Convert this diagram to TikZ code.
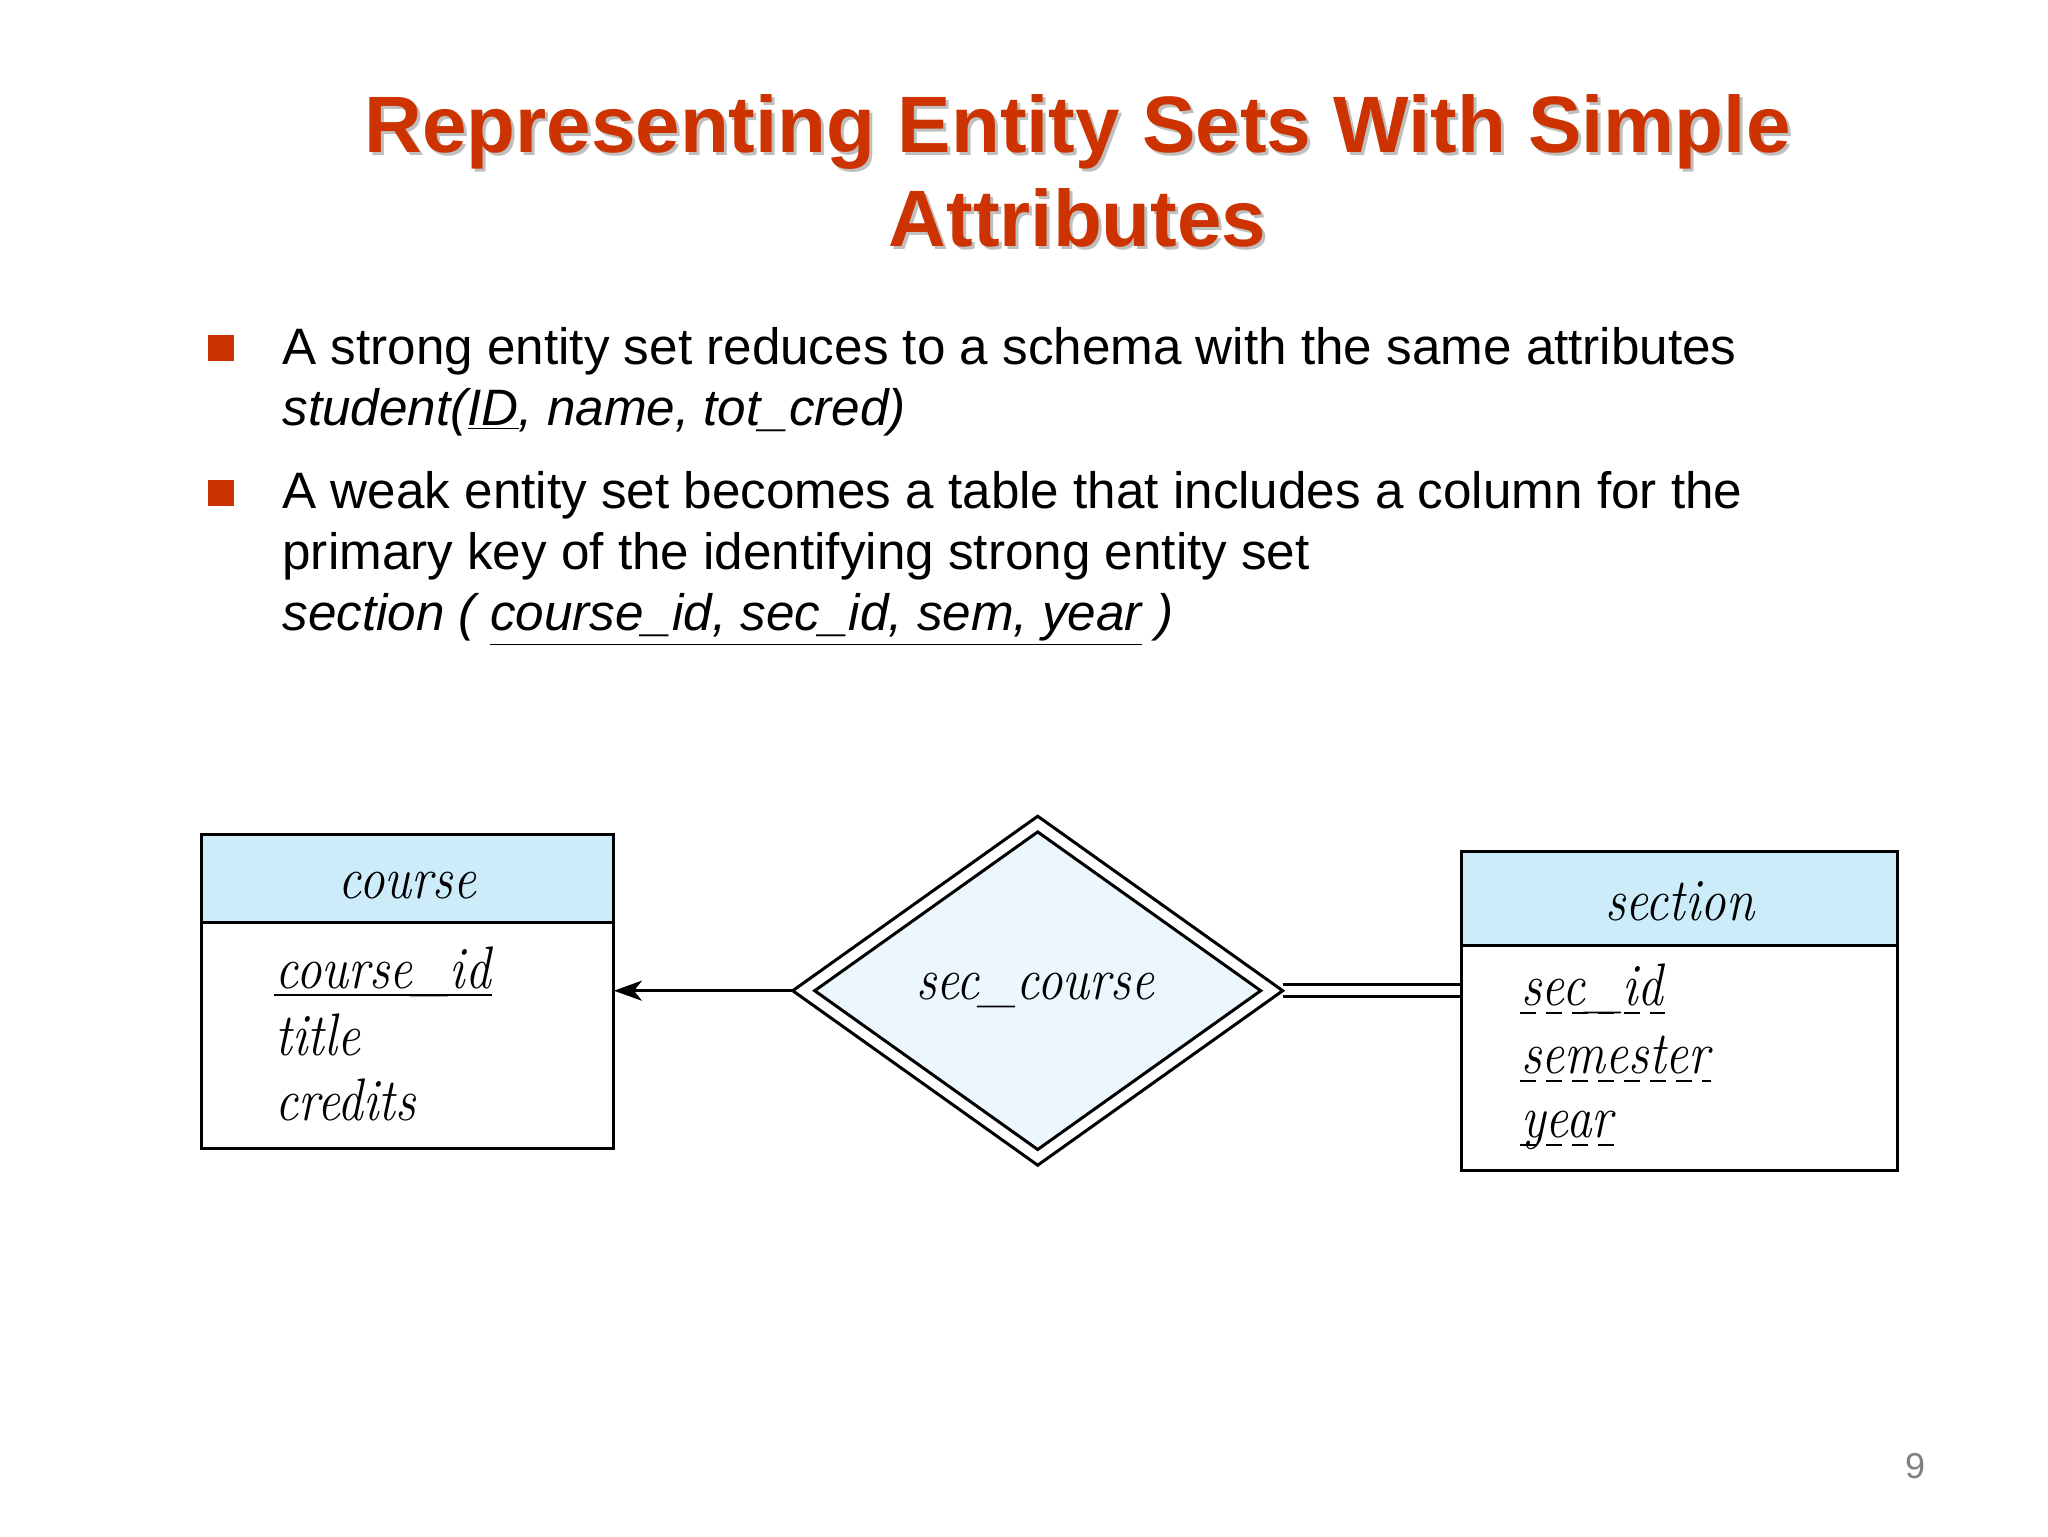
\documentclass[tikz,border=0pt]{standalone}
\usepackage{fontspec}
\usepackage{graphicx}
\newfontfamily\arialfont{Liberation Sans}
\usetikzlibrary{shapes.geometric,arrows.meta,backgrounds}
\definecolor{titlered}{RGB}{204,51,0}
\definecolor{hdrblue}{RGB}{204,236,250}
\definecolor{relblue}{RGB}{235,247,253}
\definecolor{pnumgray}{RGB}{128,128,128}
\newcommand\ertext[1]{\scalebox{0.85}[1]{\fontsize{30pt}{36pt}\selectfont\itshape #1}}
\begin{document}
\begin{tikzpicture}[x=0.5pt,y=-0.5pt,line width=1.5pt,
  titletext/.style={font={\arialfont\bfseries\fontsize{40pt}{48pt}\selectfont},text=titlered,anchor=base,inner sep=0},
  titleshadow/.style={font={\arialfont\bfseries\fontsize{40pt}{48pt}\selectfont},text=black!55,opacity=0.45,anchor=base,inner sep=0},
  bodytext/.style={font={\arialfont\fontsize{25.6pt}{31pt}\selectfont},anchor=base west,inner sep=0},
  bulletsq/.style={fill=titlered,draw=none,minimum size=13pt,inner sep=0,anchor=north west},
  hdrbox/.style={draw,fill=hdrblue,anchor=north west,inner sep=0,outer sep=0},
  bodybox/.style={draw,fill=white,anchor=north west,inner sep=0,outer sep=0},
  attr/.style={anchor=base west,inner sep=0},
  ername/.style={anchor=base,inner sep=0},
  attrdash/.style={line width=1.1pt,dash pattern=on 8pt off 5pt},
  keyline/.style={line width=1.1pt},
  connector/.style={line width=1.5pt,draw=black},
  relouter/.style={diamond,draw,fill=white,inner sep=0,outer sep=0},
  relinner/.style={diamond,draw,fill=relblue,inner sep=0,outer sep=0}]
\useasboundingbox (0,0) rectangle (2048,1536);

% title
\node[titleshadow] (t1s) at (1080.5,155.8) {Representing Entity Sets With Simple};
\node[titletext] (t1) at (1077.5,152.8) {Representing Entity Sets With Simple};
\node[titleshadow] (t2s) at (1080.5,249.9) {Attributes};
\node[titletext] (t2) at (1077.5,246.9) {Attributes};

% bullets
\node[bulletsq] (b1) at (206,333) {};
\node[bulletsq] (b2) at (206,478) {};
\node[bodytext] (l1) at (281,364.4) {A strong entity set reduces to a schema with the same attributes};
\node[bodytext] (l2) at (281,425.8) {\itshape student(\underline{ID}, name, tot\_cred)};
\node[bodytext] (l3) at (281,508) {A weak entity set becomes a table that includes a column for the};
\node[bodytext] (l4) at (281,569.5) {primary key of the identifying strong entity set};
\node[bodytext] (l5) at (281,630.8) {\itshape section ( \underline{course\_id, sec\_id, sem, year} )};

% course entity
\node[hdrbox,minimum width=206.4pt,minimum height=43.75pt] (chdr) at (201.1,834.6) {};
\node[bodybox,minimum width=206.4pt,minimum height=113pt] (cbody) at (201.1,922.1) {};
\node[ername] (cname) at (407.5,898.6) {\ertext{course}};
\node[attr] (cid) at (274.3,988.7) {\ertext{course\_id}};
\node[attr] (ctitle) at (274.3,1055) {\ertext{title}};
\node[attr] (ccred) at (274.3,1120.6) {\ertext{credits}};
\draw[keyline] ([yshift=-3.3pt]cid.base west) -- ([yshift=-3.3pt]cid.base east);

% section entity
\node[hdrbox,minimum width=218.1pt,minimum height=47pt] (shdr) at (1461.5,851.6) {};
\node[bodybox,minimum width=218.1pt,minimum height=112.35pt] (sbody) at (1461.5,945.6) {};
\node[ername] (sname) at (1679.6,920.8) {\ertext{section}};
\node[attr] (sid) at (1520,1005.7) {\ertext{sec\_id}};
\node[attr] (ssem) at (1520,1073.6) {\ertext{semester}};
\node[attr] (syear) at (1520,1137.6) {\ertext{year}};
\draw[attrdash] ([yshift=-3.5pt]sid.base west) -- ([yshift=-3.5pt]sid.base east);
\draw[attrdash] ([yshift=-3.5pt]ssem.base west) -- ([yshift=-3.5pt]ssem.base east);
\draw[attrdash] ([yshift=-3.5pt]syear.base west) -- ([yshift=-3.5pt]syear.base east);

% relationship
\node[relouter,minimum width=245pt,minimum height=174.5pt] (rel) at (1037.7,990.7) {};
\node[relinner,minimum width=223pt,minimum height=158.8pt] (relin) at (1037.7,990.7) {};
\node[ername] (relname) at (1035,999) {\ertext{sec\_course}};

% page number
\node[font={\arialfont\fontsize{18pt}{22pt}\selectfont},text=pnumgray,anchor=base,inner sep=0] (pnum) at (1915,1478) {9};

\begin{scope}[on background layer]
\fill[white] (0,0) rectangle (2048,1536);
\draw[connector,-{Stealth[length=14pt,width=10pt,inset=4pt]}] (rel.west) -- (rel.west -| cbody.east);
\draw[connector,double=white,double distance=4.5pt] (rel.east) -- (rel.east -| sbody.west);
\end{scope}
\end{tikzpicture}
\end{document}
